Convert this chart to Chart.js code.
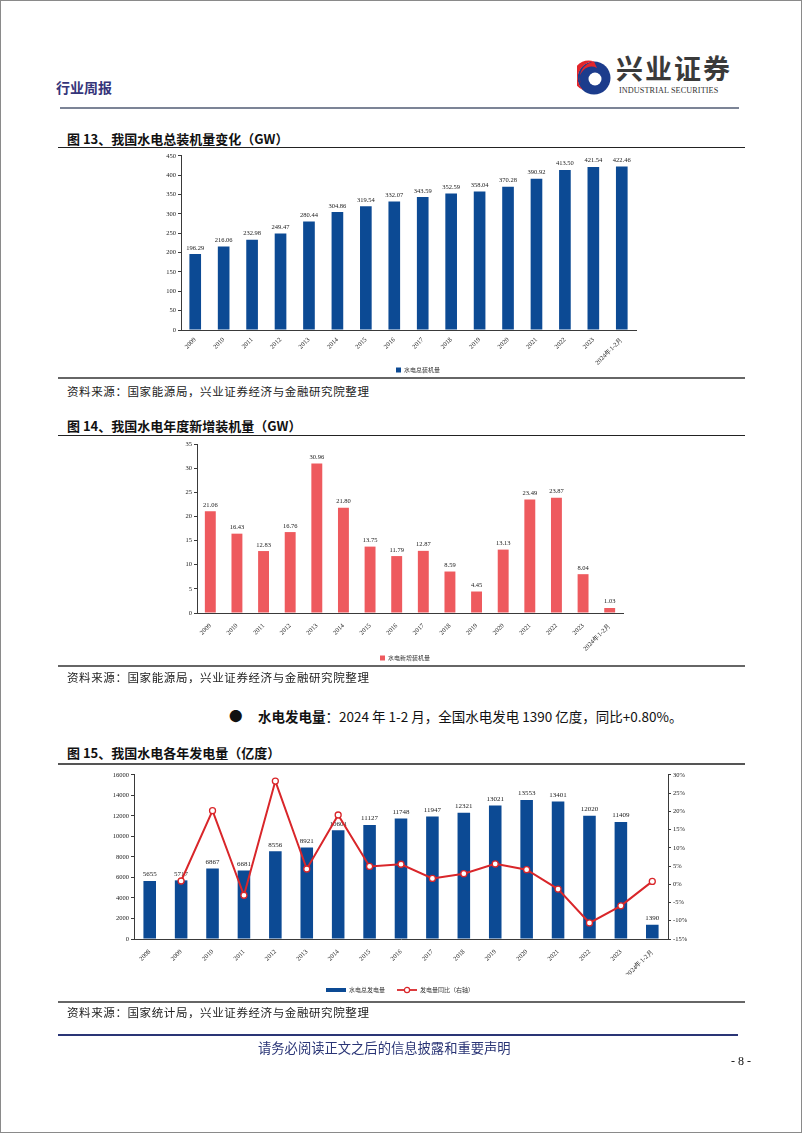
<!DOCTYPE html>
<html>
<head>
<meta charset="utf-8">
<script src="https://cdn.jsdelivr.net/npm/chart.js@4.4.1/dist/chart.umd.min.js"></script>
<style>
	html, body { margin: 0; padding: 0; background: #fff; }
	#page { position: relative; width: 802px; height: 1133px; overflow: hidden; font-family: "Noto Sans CJK SC", sans-serif; color: #111; }
	.frame { position: absolute; left: 0; top: 0; width: 802px; height: 1133px; box-sizing: border-box; border: 1px solid #8a8a8a; }
	.abs { position: absolute; white-space: nowrap; }
	.rule { position: absolute; height: 0; }
	.title { font-size: 13px; font-weight: bold; }
	.source { font-size: 11.5px; letter-spacing: 0.6px; color: #222; }
	.chart { position: absolute; }
</style>
</head>
<body>
<div id="page">
	<div class="frame"></div>

	<div class="abs" style="left:56px; top:77px; font-size:14px; color:#35357a; font-weight:bold;">行业周报</div>
	<svg class="abs" style="left:577px; top:60px;" width="34" height="36" viewBox="0 0 34 36">
		<circle cx="17" cy="18" r="16.5" fill="#1c3c8c"/>
		<path d="M17 1.5 A16.5 16.5 0 0 0 6 30 A11 11 0 0 1 17 1.5 Z" fill="#e2262c"/>
		<path d="M17 1.5 A16.5 16.5 0 0 0 4 24 A12 12 0 0 1 20 8 Z" fill="#e2262c"/>
		<circle cx="18" cy="19" r="6.5" fill="#fff"/>
		<path d="M18 12.5 A6.5 6.5 0 0 1 18 25.5 A4 4 0 0 0 18 12.5 Z" fill="#1c3c8c"/>
	</svg>
	<div class="abs" style="left:616px; top:50px; font-size:27px; line-height:36px; font-weight:bold; color:#3a3a3a; letter-spacing:2px;">兴业证券</div>
	<div class="abs" style="left:619px; top:86px; font-size:8.2px; line-height:10px; font-family:'Liberation Serif', serif; color:#333; letter-spacing:0.1px;">INDUSTRIAL SECURITIES</div>
	<div class="rule" style="left:60px; top:107px; width:679px; border-top:2px solid #7c8496;"></div>

	<div class="abs title" style="left:67px; top:129px;">图 13、我国水电总装机量变化（GW）</div>
	<div class="rule" style="left:58px; top:147px; width:687px; border-top:1.5px solid #222;"></div>
	<div class="chart" style="left:140px; top:150px; width:556px; height:233px;"><canvas id="c1" width="556" height="233"></canvas></div>
	<div class="rule" style="left:58px; top:377px; width:687px; border-top:2px solid #666;"></div>
	<div class="abs source" style="left:67px; top:383px;">资料来源：国家能源局，兴业证券经济与金融研究院整理</div>

	<div class="abs title" style="left:67px; top:416px;">图 14、我国水电年度新增装机量（GW）</div>
	<div class="rule" style="left:58px; top:435px; width:687px; border-top:1.5px solid #222;"></div>
	<div class="chart" style="left:150px; top:438px; width:510px; height:233px;"><canvas id="c2" width="510" height="233"></canvas></div>
	<div class="rule" style="left:58px; top:665px; width:687px; border-top:2px solid #666;"></div>
	<div class="abs source" style="left:67px; top:669px;">资料来源：国家能源局，兴业证券经济与金融研究院整理</div>

	<div class="abs" style="left:229px; top:705px; font-size:13.5px;">●</div>
	<div class="abs" style="left:258px; top:706px; font-size:13.5px;"><b>水电发电量</b>：2024 年 1-2 月，全国水电发电 1390 亿度，同比+0.80%。</div>

	<div class="abs title" style="left:67px; top:743px;">图 15、我国水电各年发电量（亿度）</div>
	<div class="rule" style="left:58px; top:763px; width:687px; border-top:2px solid #555;"></div>
	<div class="chart" style="left:80px; top:769px; width:640px; height:234px;"><canvas id="c3" width="640" height="234"></canvas></div>
	<div class="rule" style="left:58px; top:1001px; width:687px; border-top:2px solid #666;"></div>
	<div class="abs source" style="left:67px; top:1004px;">资料来源：国家统计局，兴业证券经济与金融研究院整理</div>

	<div class="rule" style="left:58px; top:1034px; width:680px; border-top:2px solid #2a3576;"></div>
	<div class="abs" style="left:258px; top:1038px; font-size:13.3px; color:#2a3576;">请务必阅读正文之后的信息披露和重要声明</div>
	<div class="abs" style="left:731px; top:1054px; font-size:12px; font-family:'Liberation Serif', serif;">- 8 -</div>
</div>

<script>
// 图13 总装机量 (GW)
const years1 = ["2009", "2010", "2011", "2012", "2013", "2014", "2015", "2016", "2017", "2018", "2019", "2020", "2021", "2022", "2023", "2024年1-2月"];
const totalCapacity = [196.29, 216.06, 232.98, 249.47, 280.44, 304.86, 319.54, 332.07, 343.59, 352.59, 358.04, 370.28, 390.92, 413.50, 421.54, 422.46];

// 图14 年度新增装机量 (GW)
const newCapacity = [21.06, 16.43, 12.83, 16.76, 30.96, 21.80, 13.75, 11.79, 12.87, 8.59, 4.45, 13.13, 23.49, 23.87, 8.04, 1.03];

// 图15 发电量 (亿度) + 同比 (%)
const years3 = ["2008", "2009", "2010", "2011", "2012", "2013", "2014", "2015", "2016", "2017", "2018", "2019", "2020", "2021", "2022", "2023", "2024年1-2月"];
const generation = [5655, 5717, 6867, 6681, 8556, 8921, 10601, 11127, 11748, 11947, 12321, 13021, 13553, 13401, 12020, 11409, 1390];
const generationYoY = [null, 0.9, 20.2, -3.0, 28.3, 4.2, 19.0, 4.9, 5.5, 1.6, 2.9, 5.6, 4.0, -1.3, -10.6, -5.9, 0.8];

const BLUE = "#0c4a94";
const RED_BAR = "#ee5a5e";
const RED_LINE = "#d9262a";
const SERIF = "'Liberation Serif', 'Times New Roman', serif";
const CJK = "'Noto Sans CJK SC', sans-serif";
const AXIS = "#3a3a3a";

// value labels above each bar, drawn right after the bar dataset
const barLabels = {
	id: "barLabels",
	afterDatasetDraw(chart, args) {
		const ds = chart.data.datasets[args.index];
		if (!ds.valueText) return;
		const ctx = chart.ctx;
		ctx.save();
		ctx.font = ds.valueFont || "7px " + SERIF;
		ctx.fillStyle = "#222";
		ctx.textAlign = "center";
		ctx.textBaseline = "bottom";
		args.meta.data.forEach((bar, i) => {
			ctx.fillText(ds.valueText(ds.data[i]), bar.x, bar.y - 3);
		});
		ctx.restore();
	},
};

// padRight narrows the plot only, so the legend stays centred on the whole canvas
const xAxis = (height, padRight, tickPad) => ({
	grid: { display: false },
	border: { color: AXIS, width: 1 },
	ticks: {
		autoSkip: false,
		minRotation: 45,
		maxRotation: 45,
		padding: tickPad === undefined ? 1 : tickPad,
		color: "#222",
		font: { family: SERIF, size: 6.5 },
	},
	afterFit: (s) => {
		s.height = height;
		if (padRight) s.paddingRight = padRight;
	},
});

const yAxis = (min, max, step, width, fmt) => ({
	min: min,
	max: max,
	grid: { drawOnChartArea: false, tickLength: 3, color: AXIS },
	border: { color: AXIS, width: 1 },
	ticks: {
		stepSize: step,
		padding: 2,
		color: "#222",
		font: { family: SERIF, size: 6.5 },
		callback: fmt || ((v) => String(v)),
	},
	afterFit: (s) => { s.width = width; },
});

const smallLegend = {
	position: "bottom",
	labels: {
		boxWidth: 5,
		boxHeight: 5,
		padding: 0,
		color: "#333",
		font: { family: CJK, size: 6 },
	},
};

new Chart(document.getElementById("c1"), {
	type: "bar",
	data: {
		labels: years1,
		datasets: [{
			label: "水电总装机量",
			data: totalCapacity,
			backgroundColor: BLUE,
			categoryPercentage: 1,
			barPercentage: 0.41,
			valueText: (v) => v.toFixed(2),
			valueFont: "6.5px " + SERIF,
		}],
	},
	options: {
		responsive: false,
		animation: false,
		layout: { padding: { top: 4, right: 0, left: 0, bottom: 0 } },
		scales: {
			x: xAxis(37, 60, -2),
			y: yAxis(0, 450, 50, 41),
		},
		plugins: { legend: smallLegend, tooltip: { enabled: false } },
	},
	plugins: [barLabels],
});

new Chart(document.getElementById("c2"), {
	type: "bar",
	data: {
		labels: years1,
		datasets: [{
			label: "水电新增装机量",
			data: newCapacity,
			backgroundColor: RED_BAR,
			categoryPercentage: 1,
			barPercentage: 0.41,
			valueText: (v) => v.toFixed(2),
			valueFont: "6.5px " + SERIF,
		}],
	},
	options: {
		responsive: false,
		animation: false,
		layout: { padding: { top: 6, right: 0, left: 0, bottom: 0 } },
		scales: {
			x: xAxis(42, 37),
			y: yAxis(0, 35, 5, 47),
		},
		plugins: { legend: smallLegend, tooltip: { enabled: false } },
	},
	plugins: [barLabels],
});

// legend swatches for the combo chart: thick bar stroke and line with hollow marker
const barSwatch = document.createElement("canvas");
barSwatch.width = 20; barSwatch.height = 4;
(function () {
	const g = barSwatch.getContext("2d");
	g.fillStyle = BLUE;
	g.fillRect(0, 0, 20, 4);
})();
const lineSwatch = document.createElement("canvas");
lineSwatch.width = 20; lineSwatch.height = 8;
(function () {
	const g = lineSwatch.getContext("2d");
	g.strokeStyle = RED_LINE;
	g.lineWidth = 1.8;
	g.beginPath(); g.moveTo(0, 4); g.lineTo(20, 4); g.stroke();
	g.fillStyle = "#fff";
	g.lineWidth = 1.2;
	g.beginPath(); g.arc(10, 4, 2.6, 0, Math.PI * 2); g.fill(); g.stroke();
})();

new Chart(document.getElementById("c3"), {
	data: {
		labels: years3,
		datasets: [
			{
				type: "bar",
				label: "水电总发电量",
				data: generation,
				backgroundColor: BLUE,
				categoryPercentage: 1,
				barPercentage: 0.4,
				yAxisID: "y",
				order: 2,
				valueText: (v) => String(v),
				valueFont: "7px " + SERIF,
			},
			{
				type: "line",
				label: "发电量同比（右轴）",
				data: generationYoY,
				yAxisID: "y1",
				order: 1,
				borderColor: RED_LINE,
				borderWidth: 2,
				pointStyle: "circle",
				pointRadius: 3,
				pointBorderWidth: 1.3,
				pointBackgroundColor: "#fff",
				pointBorderColor: RED_LINE,
				tension: 0,
			},
		],
	},
	options: {
		responsive: false,
		animation: false,
		layout: { padding: { top: 4, right: 0, left: 0, bottom: 0 } },
		scales: {
			x: xAxis(36),
			y: yAxis(0, 16000, 2000, 54),
			y1: Object.assign(yAxis(-15, 30, 5, 52, (v) => v + "%"), { position: "right" }),
		},
		plugins: {
			legend: {
				position: "bottom",
				labels: {
					usePointStyle: true,
					pointStyleWidth: 20,
					padding: 12,
					color: "#333",
					font: { family: CJK, size: 6 },
					sort: (a, b) => a.datasetIndex - b.datasetIndex,
					generateLabels: (chart) =>
						Chart.defaults.plugins.legend.labels.generateLabels(chart).map((item) => {
							item.pointStyle = item.datasetIndex === 0 ? barSwatch : lineSwatch;
							return item;
						}),
				},
			},
			tooltip: { enabled: false },
		},
	},
	plugins: [barLabels],
});
</script>
</body>
</html>
